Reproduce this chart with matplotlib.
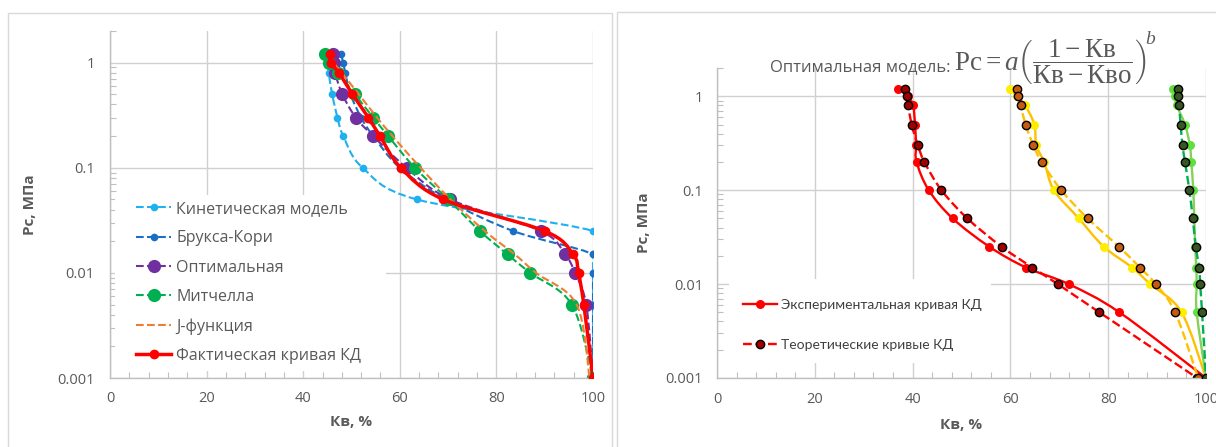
"""Capillary pressure curves: model comparison and optimal model fit."""

import numpy as np
import matplotlib

matplotlib.use("Agg")
import matplotlib.pyplot as plt
from matplotlib.lines import Line2D
from matplotlib.patches import PathPatch, Rectangle
from matplotlib.path import Path
from matplotlib.ticker import FixedFormatter, FixedLocator, LogLocator, MultipleLocator, NullFormatter

plt.rcParams["font.family"] = ["Open Sans", "DejaVu Sans"]
plt.rcParams["mathtext.fontset"] = "custom"
plt.rcParams["mathtext.rm"] = "Liberation Serif"
plt.rcParams["mathtext.it"] = "Liberation Serif:italic"
plt.rcParams["mathtext.bf"] = "Liberation Serif:bold"

# --- data -----------------------------------------------------------------
pc_levels = [1.2, 1, 0.8, 0.5, 0.3, 0.2, 0.1, 0.05, 0.025, 0.015, 0.01, 0.005, 0.001]

# left chart: model comparison
kv_kinetic = [45.0, 45.2, 45.3, 46.0, 47.1, 48.3, 52.3, 63.5, 100, 100, 100, 100, 100]
kv_brooks = [47.8, 48.3, 48.7, 49.8, 52.0, 54.5, 60.0, 69.5, 83.5, 100, 100, 100, 100]
kv_optimal = [46.2, 46.4, 46.6, 48.1, 50.9, 54.5, 61.4, 70.4, 89.2, 94.2, 96.3, 98.6, 100]
kv_mitchell = [44.5, 45.3, 47.3, 50.7, 54.5, 57.6, 63.1, 70.0, 76.6, 82.3, 87.0, 95.6, 100]
kv_jfunc = [45.6, 46.3, 48.0, 51.5, 55.3, 58.5, 64.3, 70.5, 77.6, 83.8, 88.2, 96.6, 99.3]
kv_actual = [45.5, 45.7, 47.4, 50.2, 53.5, 55.9, 60.2, 69.0, 90.0, 95.9, 97.0, 98.1, 100]

left_labels = ["Кинетическая модель", "Брукса-Кори", "Оптимальная", "Митчелла",
               "J-функция", "Фактическая кривая КД"]

# right chart: experimental vs theoretical (optimal model)
kv_exp_red = [37.1, 39.0, 40.1, 40.5, 40.7, 40.8, 43.3, 48.2, 55.7, 63.2, 71.9, 82.3, 100]
kv_theo_red = [38.4, 38.8, 39.1, 39.8, 41.1, 42.4, 45.9, 51.2, 58.2, 64.5, 69.7, 78.2, 98.2]
kv_exp_yellow = [60.0, 61.3, 63.0, 64.9, 65.3, 66.9, 68.9, 74.0, 79.1, 84.9, 88.6, 95.0, 100]
kv_theo_brown = [61.3, 61.6, 62.1, 63.1, 64.7, 66.4, 70.4, 75.8, 82.2, 86.5, 89.7, 93.7, 98.4]
kv_exp_green = [93.3, 93.6, 94.0, 95.7, 96.7, 97.0, 97.4, 97.6, 97.8, 98.0, 98.1, 98.1, 100]
kv_theo_green = [94.2, 94.3, 94.5, 94.8, 95.2, 95.7, 96.6, 97.3, 97.9, 98.6, 98.8, 99.2, 100]

right_labels = ["Экспериментальная кривая КД", "Теоретические кривые КД"]

y_ticks = [0.001, 0.01, 0.1, 1]
y_tick_labels = ["0.001", "0.01", "0.1", "1"]
x_ticks = [0, 20, 40, 60, 80, 100]

GRAY = "#595959"
GRID = "#d0d0d0"


def smooth_path(x, y):
    """Excel-like smoothed line (Catmull-Rom Bezier) in x / log10(y) space."""
    pts = np.column_stack([np.asarray(x, float), np.log10(np.asarray(y, float))])
    n = len(pts)
    verts = [pts[0]]
    codes = [Path.MOVETO]
    for i in range(n - 1):
        p0 = pts[max(i - 1, 0)]
        p1 = pts[i]
        p2 = pts[i + 1]
        p3 = pts[min(i + 2, n - 1)]
        verts += [p1 + (p2 - p0) / 6, p2 - (p3 - p1) / 6, p2]
        codes += [Path.CURVE4] * 3
    verts = np.array(verts)
    verts[:, 1] = 10 ** verts[:, 1]
    return Path(verts, codes)


def draw_series(ax, x, y, z, line_color, ls="-", lw=1.5, **marker_kw):
    ax.add_patch(PathPatch(smooth_path(x, y), fill=False, edgecolor=line_color,
                           linestyle=ls, linewidth=lw, zorder=z, capstyle="butt"))
    if marker_kw:
        ax.plot(x, y, linestyle="none", marker="o", zorder=z + 0.05, **marker_kw)


def style_axes(ax, ypad, xpad):
    ax.set_yscale("log")
    ax.set_xlim(0, 100)
    ax.set_ylim(0.001, 2)
    ax.yaxis.set_major_locator(FixedLocator(y_ticks))
    ax.yaxis.set_major_formatter(FixedFormatter(y_tick_labels))
    ax.yaxis.set_minor_locator(LogLocator(base=10, subs=np.arange(2, 10)))
    ax.yaxis.set_minor_formatter(NullFormatter())
    ax.xaxis.set_major_locator(FixedLocator(x_ticks))
    ax.xaxis.set_minor_locator(MultipleLocator(4))
    ax.tick_params(which="major", length=0, labelsize=10.5, labelcolor=GRAY)
    ax.tick_params(axis="y", which="major", pad=ypad)
    ax.tick_params(axis="x", which="major", pad=xpad)
    ax.tick_params(which="minor", direction="in", length=4, width=0.8, color="#bfbfbf")
    for side in ("top", "right"):
        ax.spines[side].set_visible(False)
    for side in ("left", "bottom"):
        ax.spines[side].set_color("#bfbfbf")
        ax.spines[side].set_linewidth(1)
    ax.set_axisbelow(True)
    ax.grid(True, which="major", color=GRID, linewidth=1)


fig = plt.figure(figsize=(12.16, 4.47), dpi=100)

# panel frames
fig.patches.append(Rectangle((8 / 1216, -0.1), 604 / 1216, 1.1 - 13 / 447, transform=fig.transFigure,
                             fill=False, edgecolor="#d9d9d9", linewidth=1))
fig.patches.append(Rectangle((617 / 1216, -0.1), 0.6, 1.1 - 12 / 447, transform=fig.transFigure,
                             fill=False, edgecolor="#d9d9d9", linewidth=1))

# --- left chart -----------------------------------------------------------
ax1 = fig.add_axes([110 / 1216, 69 / 447, 483 / 1216, 347 / 447])
style_axes(ax1, ypad=11, xpad=9)
ax1.add_patch(Rectangle((0.01, 0.02), 0.561, 0.507, transform=ax1.transAxes,
                        facecolor="white", edgecolor="none", zorder=1))

left_styles = [
    (kv_kinetic, "#1fb0f0", "--", 1.5, 5.5),
    (kv_brooks, "#1a6fc4", "--", 1.5, 5.5),
    (kv_optimal, "#7030a0", "--", 1.5, 9.5),
    (kv_mitchell, "#00b050", "--", 1.5, 9.5),
    (kv_jfunc, "#ed7d31", "--", 1.5, 0),
    (kv_actual, "#ff0000", "-", 2.5, 7),
]
left_handles = []
for i, (kv, color, ls, lw, ms) in enumerate(left_styles):
    z = 2 + i * 0.1
    if ms:
        draw_series(ax1, kv, pc_levels, z, color, ls, lw, color=color, markersize=ms,
                    markeredgewidth=0)
    else:
        draw_series(ax1, kv, pc_levels, z, color, ls, lw)
    left_handles.append(Line2D([], [], color=color, linestyle=ls, linewidth=lw,
                               marker="o" if ms else None, markersize=ms, markeredgewidth=0))

ax1.legend(left_handles, left_labels, loc="upper left", bbox_to_anchor=(0.054, 0.51),
           frameon=False, fontsize=11.5, labelcolor=GRAY, handlelength=2.2,
           handletextpad=0.3, labelspacing=0.83, borderpad=0, borderaxespad=0)

ax1.set_xlabel("Кв, %", fontsize=11, fontweight="bold", color=GRAY, va="center")
ax1.xaxis.set_label_coords(0.5, -0.127)
ax1.set_ylabel("Рс, МПа", fontsize=11, fontweight="bold", color=GRAY, va="center")
ax1.yaxis.set_label_coords(-0.166, 0.5)

# --- right chart ----------------------------------------------------------
ax2 = fig.add_axes([717 / 1216, 69 / 447, 489 / 1216, 310 / 447])
style_axes(ax2, ypad=10, xpad=10)
ax2.add_patch(Rectangle((0.0245, 0.048), 0.536, 0.27, transform=ax2.transAxes,
                        facecolor="white", edgecolor="none", zorder=1))

exp_style = dict(markersize=6.5, markeredgewidth=0)
theo_style = dict(markersize=6, markeredgewidth=1, markeredgecolor="black")

draw_series(ax2, kv_exp_red, pc_levels, 2.0, "#ff0000", "-", 1.7, color="#ff0000", **exp_style)
draw_series(ax2, kv_theo_red, pc_levels, 2.1, "#ff0000", "--", 1.7, color="#a00000", **theo_style)
draw_series(ax2, kv_exp_yellow, pc_levels, 2.2, "#ffc000", "-", 1.7, color="#ffee00", **exp_style)
draw_series(ax2, kv_theo_brown, pc_levels, 2.3, "#ffc000", "--", 1.7, color="#c55a11", **theo_style)
draw_series(ax2, kv_exp_green, pc_levels, 2.4, "#86d05a", "-", 1.7, color="#5fe040", **exp_style)
draw_series(ax2, kv_theo_green, pc_levels, 2.5, "#00b050", "--", 1.7, color="#375623", **theo_style)

right_handles = [
    Line2D([], [], color="#ff0000", linestyle="-", linewidth=1.7, marker="o",
           markerfacecolor="#ff0000", **exp_style),
    Line2D([], [], color="#ff0000", linestyle="--", linewidth=1.7, marker="o",
           markerfacecolor="#a00000", **theo_style),
]
ax2.legend(right_handles, right_labels, loc="upper left", bbox_to_anchor=(0.053, 0.255),
           frameon=False, prop={"family": ["Lato", "DejaVu Sans"], "size": 10},
           labelcolor="#404040", handlelength=2.45, handletextpad=0.3, labelspacing=2.0,
           borderpad=0, borderaxespad=0)

# title: sans text + serif formula, exponent set at the top of the bracket
ax2.text(0.4785, 0.99, "Оптимальная модель:", transform=ax2.transAxes,
         ha="right", va="baseline", fontsize=12, color=GRAY)
formula = ax2.text(0.4847, 0.99,
                   r"$\mathrm{Рс} = a\left(\dfrac{1-\mathrm{Кв}}{\mathrm{Кв}-\mathrm{Кво}}\right)$",
                   transform=ax2.transAxes, ha="left", va="baseline", fontsize=19.5, color=GRAY)
fig.canvas.draw()
bb = formula.get_window_extent()
fig.text((bb.x1 - 2) / 1216, (bb.y1 - 7) / 447, r"$b$", ha="left", va="baseline",
         fontsize=14, color=GRAY)

ax2.set_xlabel("Кв, %", fontsize=11, fontweight="bold", color=GRAY, va="center")
ax2.xaxis.set_label_coords(0.5, -0.152)
ax2.set_ylabel("Рс, МПа", fontsize=11, fontweight="bold", color=GRAY, va="center")
ax2.yaxis.set_label_coords(-0.149, 0.5)

fig.savefig("out.png", dpi=100)
